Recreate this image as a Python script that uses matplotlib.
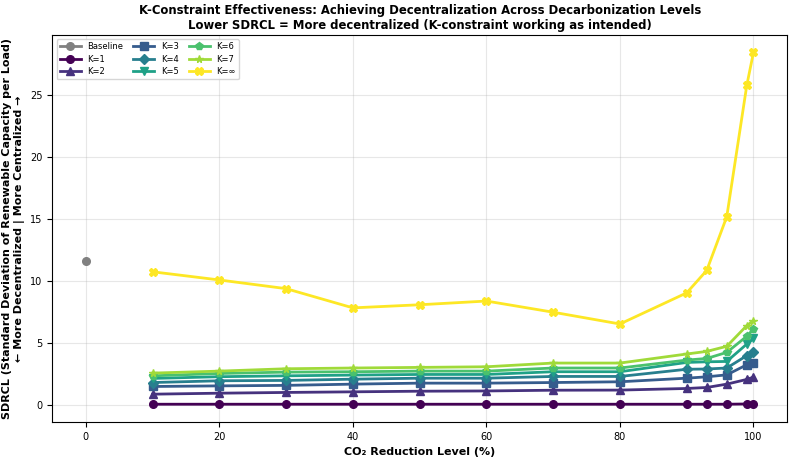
import numpy as np
import matplotlib
matplotlib.use("Agg")
import matplotlib.pyplot as plt

# ===============================
# Data
# ===============================
CO2_LEVELS = [10, 20, 30, 40, 50, 60, 70, 80, 90, 93, 96, 99, 100]
BASELINE_X = [0]
BASELINE_Y = [11.65]

K1 = [0.08, 0.08, 0.08, 0.08, 0.08, 0.08, 0.08, 0.08, 0.08, 0.08, 0.08, 0.10, 0.10]
K2 = [0.89, 0.97, 1.03, 1.08, 1.13, 1.15, 1.21, 1.22, 1.35, 1.43, 1.70, 2.08, 2.27]
K3 = [1.51, 1.56, 1.60, 1.70, 1.78, 1.78, 1.83, 1.89, 2.18, 2.29, 2.45, 3.26, 3.42]
K4 = [1.83, 1.97, 2.00, 2.10, 2.18, 2.18, 2.32, 2.32, 2.90, 2.92, 3.00, 4.00, 4.30]
K5 = [2.16, 2.30, 2.37, 2.43, 2.48, 2.48, 2.70, 2.70, 3.45, 3.50, 3.53, 4.93, 5.40]
K6 = [2.37, 2.56, 2.67, 2.70, 2.75, 2.75, 3.00, 3.00, 3.64, 3.77, 4.26, 5.56, 6.15]
K7 = [2.59, 2.75, 2.94, 3.00, 3.05, 3.10, 3.40, 3.40, 4.13, 4.34, 4.75, 6.42, 6.82]
K_INF = [10.76, 10.10, 9.40, 7.85, 8.10, 8.40, 7.50, 6.55, 9.06, 10.87, 15.20, 25.80, 28.45]

SERIES = {
    "K=1": K1, "K=2": K2, "K=3": K3, "K=4": K4,
    "K=5": K5, "K=6": K6, "K=7": K7, "K=∞": K_INF,
}
MARKERS = ["o", "^", "s", "D", "v", "p", "*", "X"]

colors = plt.cm.viridis(np.linspace(0, 1, len(SERIES)))

# ===============================
# Plot
# ===============================
fig, ax = plt.subplots(figsize=(7.94, 4.58), dpi=100)

ax.plot(BASELINE_X, BASELINE_Y, color="gray", marker="o", markersize=5.5,
        linewidth=2, label="Baseline")

for (name, vals), col, mk in zip(SERIES.items(), colors, MARKERS):
    ax.plot(CO2_LEVELS, vals, color=col, marker=mk, markersize=5.5,
            linewidth=2, label=name)

ax.set_xlabel("CO₂ Reduction Level (%)", fontsize=8, fontweight="bold")
ax.set_ylabel("SDRCL (Standard Deviation of Renewable Capacity per Load)\n"
              "← More Decentralized | More Centralized →",
              fontsize=8, fontweight="bold")
ax.set_title("K-Constraint Effectiveness: Achieving Decentralization Across Decarbonization Levels\n"
             "Lower SDRCL = More decentralized (K-constraint working as intended)",
             fontsize=8.4, fontweight="bold", pad=4)

ax.set_xlim(-5, 105)
ax.tick_params(labelsize=7)
ax.grid(alpha=0.3)
ax.legend(loc="upper left", ncol=3, fontsize=6, handlelength=2.5,
          columnspacing=1.2, labelspacing=0.4)

fig.subplots_adjust(left=0.066, right=0.991, top=0.924, bottom=0.079)
fig.savefig("out.png", dpi=100)
